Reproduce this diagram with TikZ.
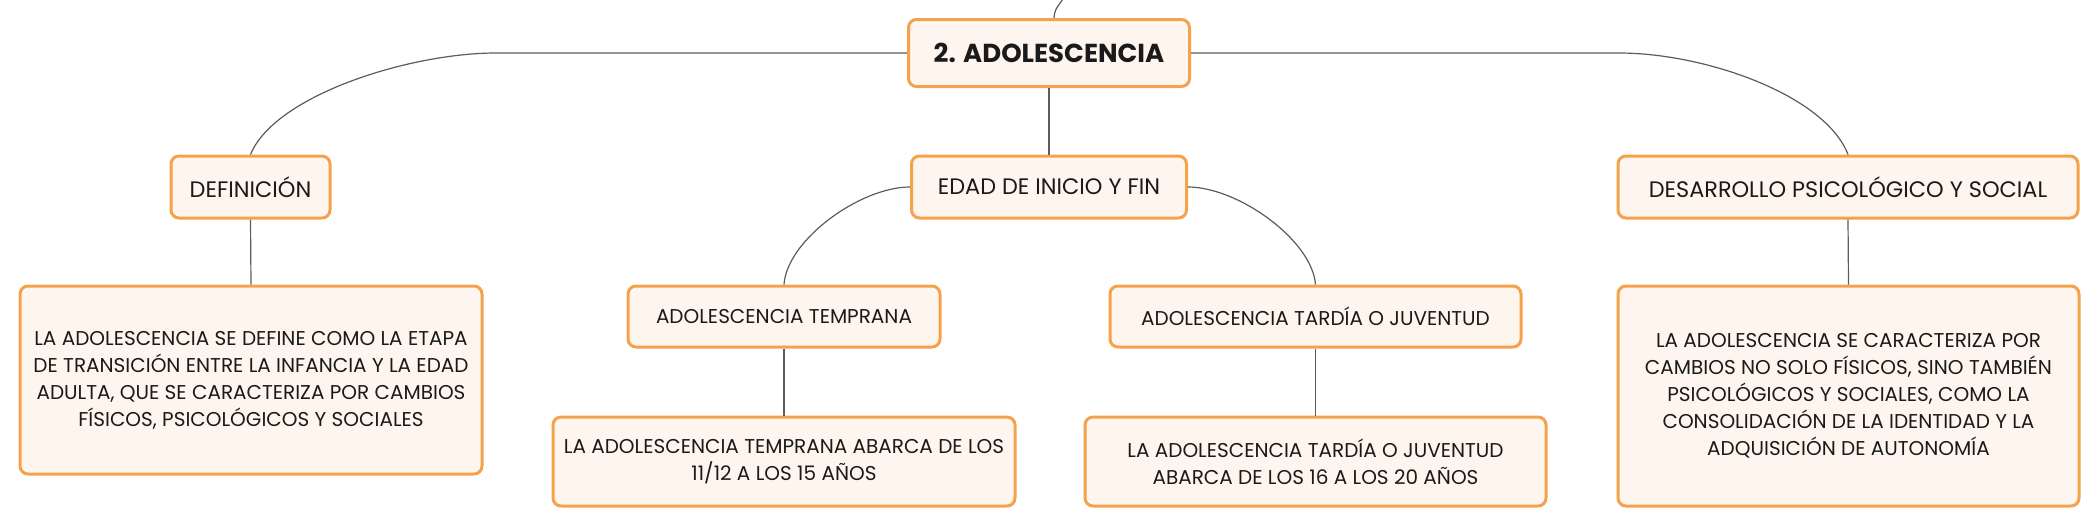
\documentclass[tikz,border=0pt]{standalone}
\usepackage{fontspec}
\setmainfont{Poppins}
\definecolor{boxline}{HTML}{F4A24C}
\definecolor{boxfill}{HTML}{FEF6EE}
\definecolor{linkgray}{HTML}{5C5C5C}
\definecolor{inkblack}{HTML}{1A1A1A}

\begin{document}
\begin{tikzpicture}[x=0.5pt,y=-0.5pt,
  topic/.style={draw=boxline, fill=boxfill, line width=1.5pt, rounded corners=4pt,
    align=center, inner sep=0pt, text=inkblack},
  maintopic/.style={topic, font=\fontsize{13}{15}\selectfont\bfseries},
  subtopic/.style={topic, font=\fontsize{11.2}{14}\selectfont},
  leaftopic/.style={topic, font=\fontsize{10}{13.5}\selectfont},
  link/.style={draw=linkgray, line width=0.6pt}]
\useasboundingbox (0,0) rectangle (2100,526);

\node[maintopic, minimum width=140.5pt, minimum height=33.5pt] (root) at (1049,53) {2. ADOLESCENCIA};

\node[subtopic, minimum width=79.5pt, minimum height=31pt] (def) at (250.5,187) {DEFINICIÓN};
\node[subtopic, minimum width=137.5pt, minimum height=31pt] (edad) at (1049,187) {EDAD DE INICIO Y FIN};
\node[subtopic, minimum width=230pt, minimum height=31pt] (desa) at (1848,187) {DESARROLLO PSICOLÓGICO Y SOCIAL};

\node[leaftopic, minimum width=231pt, minimum height=94pt] (deftext) at (251,380)
  {LA ADOLESCENCIA SE DEFINE COMO LA ETAPA\\DE TRANSICIÓN ENTRE LA INFANCIA Y LA EDAD\\ADULTA, QUE SE CARACTERIZA POR CAMBIOS\\FÍSICOS, PSICOLÓGICOS Y SOCIALES};
\node[leaftopic, minimum width=156pt, minimum height=30.5pt] (temp) at (784,316.5) {ADOLESCENCIA TEMPRANA};
\node[leaftopic, minimum width=231pt, minimum height=44.5pt] (temptext) at (784,461.5)
  {LA ADOLESCENCIA TEMPRANA ABARCA DE LOS\\11/12 A LOS 15 AÑOS};
\node[leaftopic, minimum width=205.5pt, minimum height=30.5pt] (tard) at (1315.5,316.5) {ADOLESCENCIA TARDÍA O JUVENTUD};
\node[leaftopic, minimum width=230.5pt, minimum height=44.5pt] (tardtext) at (1315.5,461.5)
  {LA ADOLESCENCIA TARDÍA O JUVENTUD\\ABARCA DE LOS 16 A LOS 20 AÑOS};
\node[leaftopic, minimum width=230.5pt, minimum height=110pt] (desatext) at (1848.5,396)
  {LA ADOLESCENCIA SE CARACTERIZA POR\\CAMBIOS NO SOLO FÍSICOS, SINO TAMBIÉN\\PSICOLÓGICOS Y SOCIALES, COMO LA\\CONSOLIDACIÓN DE LA IDENTIDAD Y LA\\ADQUISICIÓN DE AUTONOMÍA};

\coordinate (parent) at (1063,-1);

\draw[link] ([xshift=2.5pt]root.north) .. controls (1055,10) .. (parent);
\draw[link] (root.west) -- (496,53) .. controls (410,53) and (275,95) .. (def.north);
\draw[link] (root.east) -- (1619,53) .. controls (1705,53) and (1825,95) .. (desa.north);
\draw[link] (root.south) -- (edad.north);
\draw[link] (edad.west) .. controls (860,187) and (787,240) .. (temp.north);
\draw[link] (edad.east) .. controls (1238,187) and (1312,240) .. (tard.north);
\draw[link] (def.south) -- (deftext.north);
\draw[link] (temp.south) -- (temptext.north);
\draw[link] (tard.south) -- (tardtext.north);
\draw[link] (desa.south) -- (desatext.north);
\end{tikzpicture}
\end{document}
